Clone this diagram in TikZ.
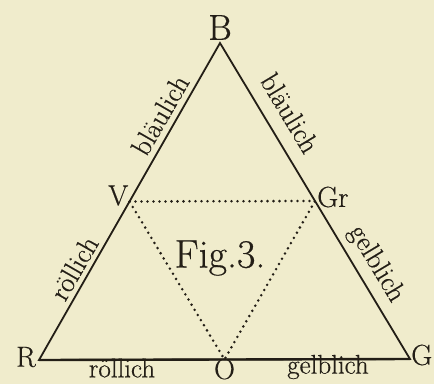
\documentclass[tikz,border=0pt]{standalone}
\usepackage{fontspec}
\setmainfont{Latin Modern Roman}[FakeBold=0.5]
\usepackage{tikz}
\usetikzlibrary{calc}
\definecolor{paper}{RGB}{240,236,204}
\definecolor{ink}{RGB}{35,30,22}
\tikzset{
  edge/.style={draw=ink,line width=1.8pt,line join=miter},
  mid/.style={draw=ink,line width=2.8pt,dash pattern=on 0pt off 6pt,line cap=round},
  vlab/.style={font=\fontsize{29}{31}\selectfont,text=ink,inner sep=1pt},
  slab/.style={font=\fontsize{28}{30}\selectfont,text=ink,inner sep=1pt},
}

\begin{document}
\begin{tikzpicture}[x=1pt,y=-1pt]
  \fill[paper] (0,0) rectangle (434,384);
  \useasboundingbox (0,0) rectangle (434,384);
  % Ecken
  \coordinate (R) at (39,360);
  \coordinate (B) at (220,43);
  \coordinate (G) at (410,359);
  \coordinate (V) at ($(R)!0.5!(B)$);
  \coordinate (Gr) at ($(B)!0.5!(G)$);
  \coordinate (O) at ($(R)!0.5!(G)$);
  % Dreiecke
  \draw[edge] (R) -- (B) -- (G) -- cycle;
  \draw[edge,line width=2.4pt] (R) -- (G);
  \draw[mid] (V) -- (Gr) -- (O) -- cycle;
  % Seitenbeschriftung
  \node[slab,rotate=60] (sRV) at (74,268) {röllich};
  \node[slab,rotate=60] (sVB) at (160,115) {bläulich};
  \node[slab,rotate=-59] (sBGr) at (290,113) {bläulich};
  \node[slab,rotate=-59] (sGrG) at (376,264) {gelblich};
  \node[slab,font=\fontsize{27}{29}\selectfont] (sRO) at (122,368) {röllich};
  \node[slab,font=\fontsize{27}{29}\selectfont] (sOG) at (328,367) {gelblich};
  % Eckpunkte
  \node[vlab,font=\fontsize{36}{38}\selectfont,above=2pt] (lB) at (B) {B};
  \node[vlab,left=0pt,yshift=6pt] (lV) at (V) {V};
  \node[vlab,right=1pt,yshift=4pt] (lGr) at (Gr) {Gr};
  \node[vlab,left=2pt,yshift=3pt] (lR) at (R) {R};
  \node[vlab,right=0pt,yshift=4pt] (lG) at (G) {G};
  \node[vlab,below=-2pt] (lO) at (O) {O};
  \node[vlab,font=\fontsize{40}{42}\selectfont] (fig) at (220,258) {Fig.3.};
\end{tikzpicture}
\end{document}
